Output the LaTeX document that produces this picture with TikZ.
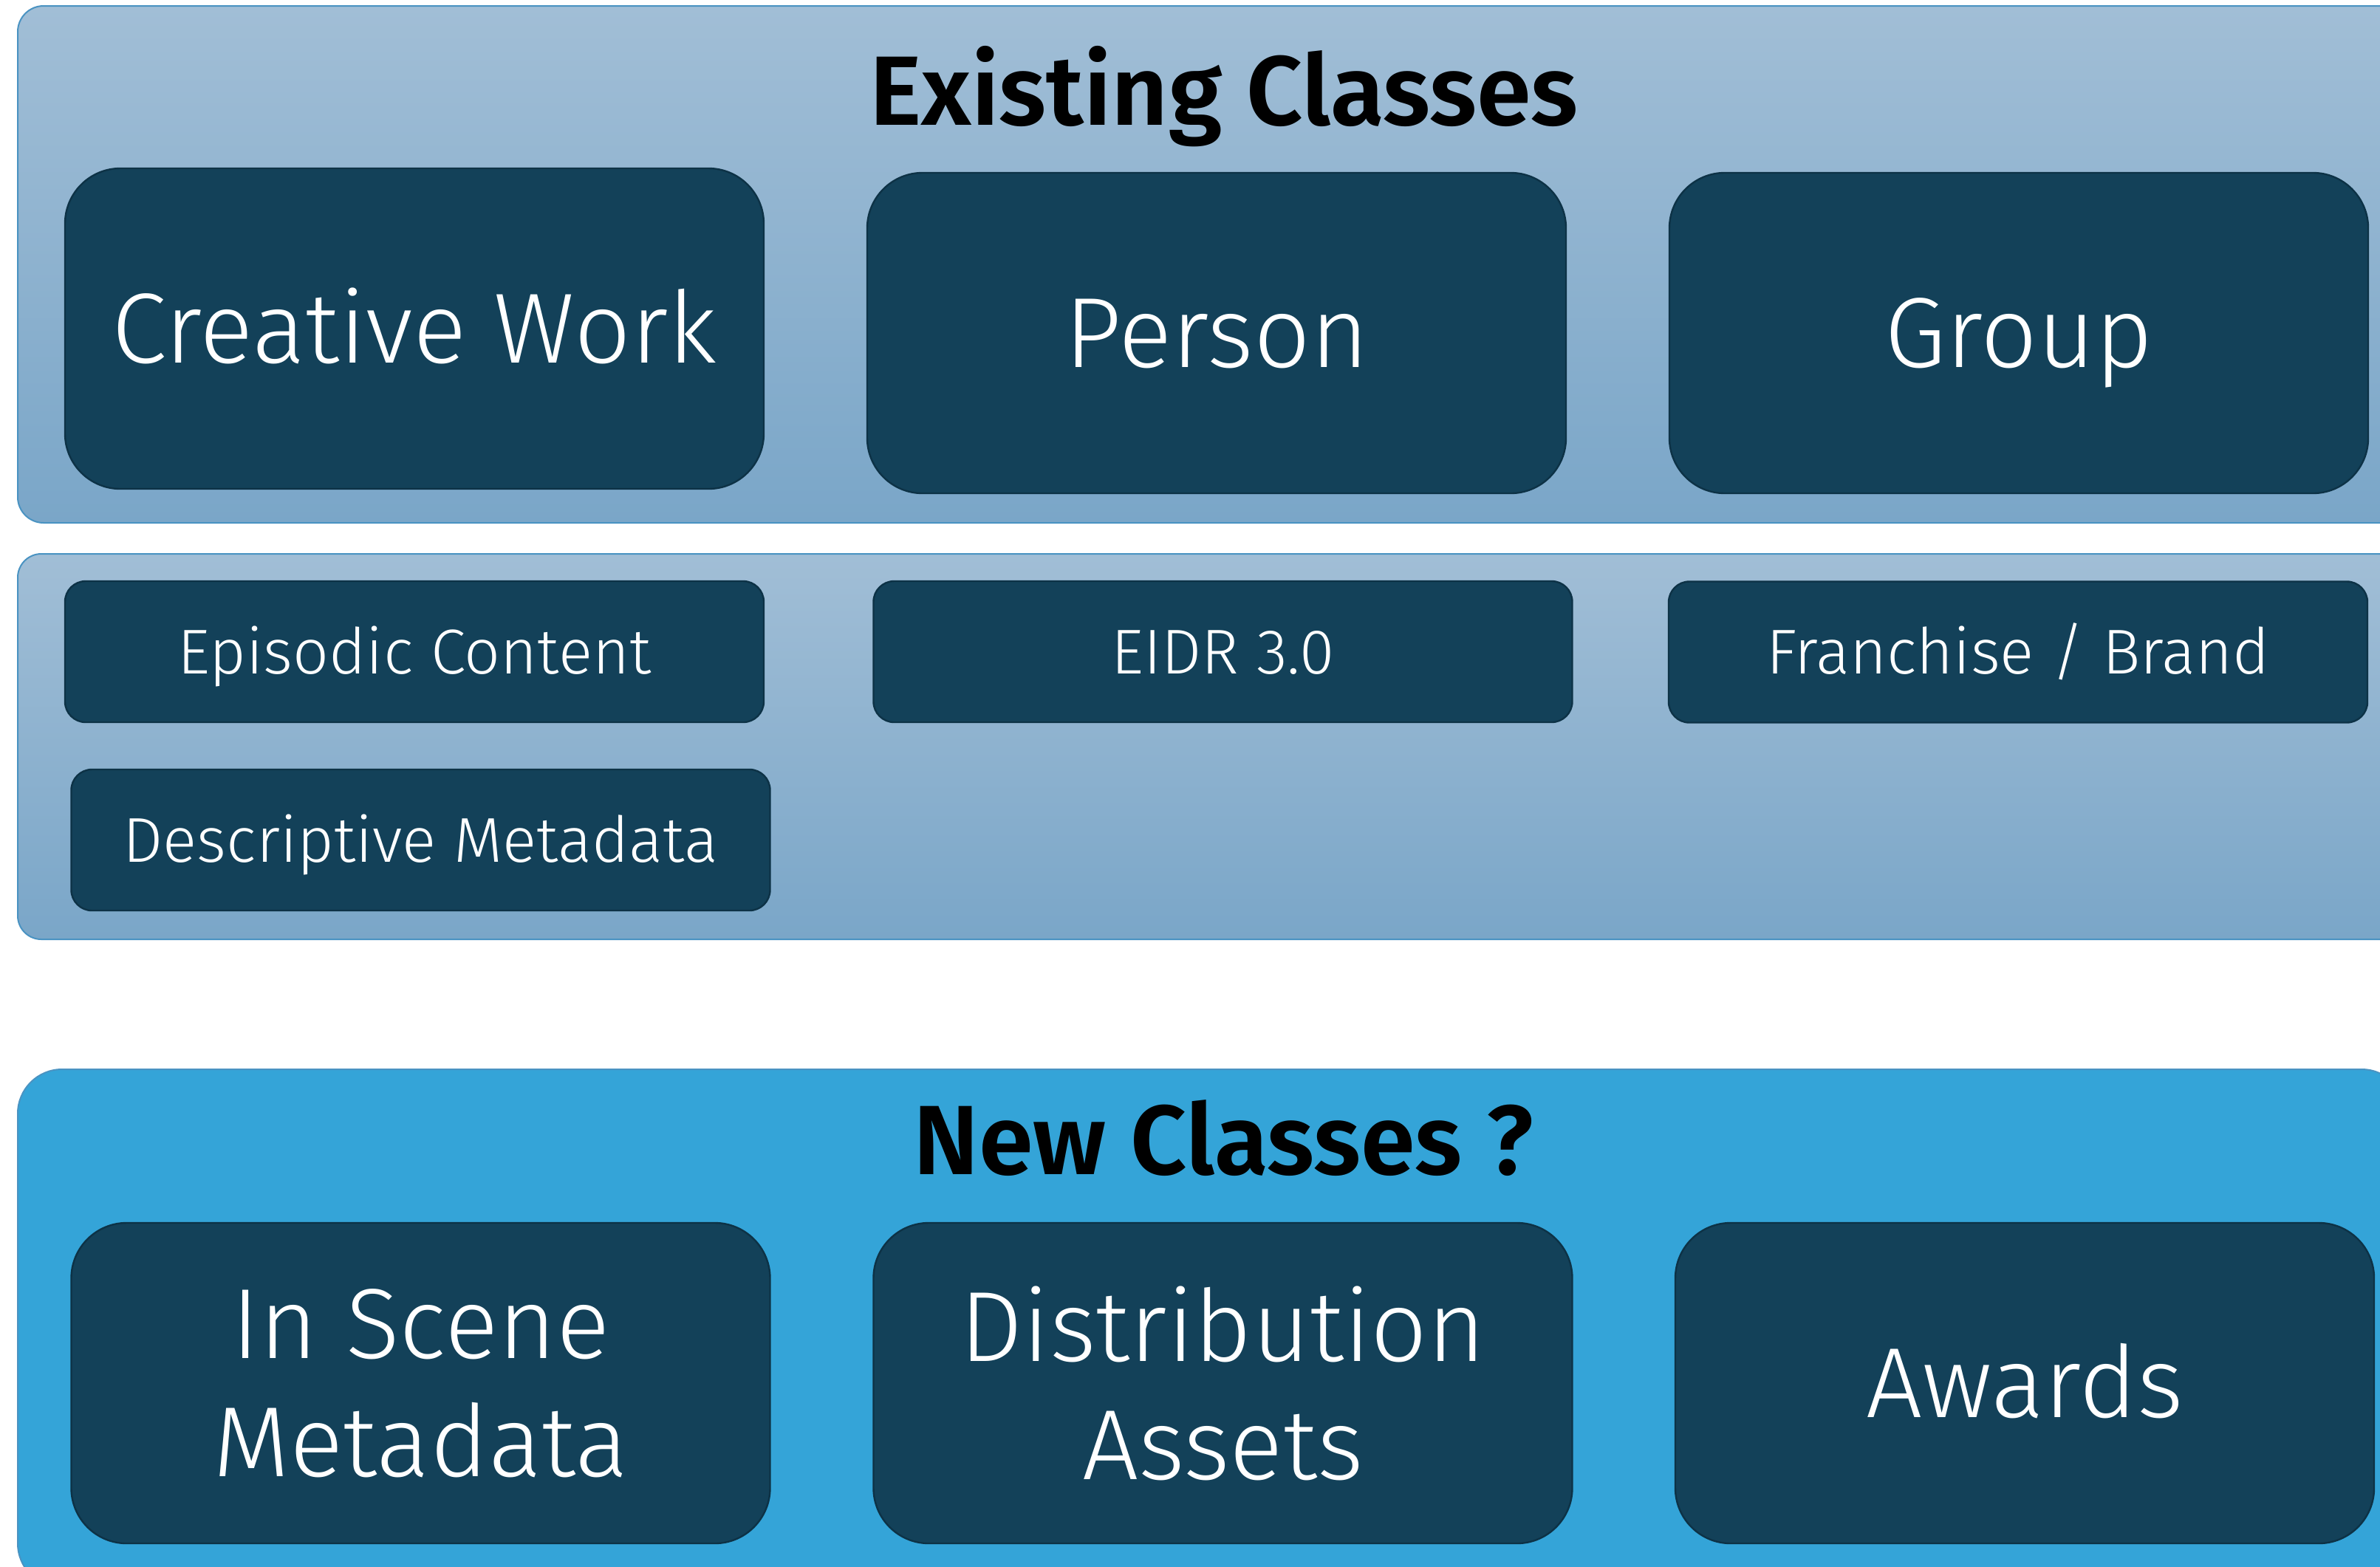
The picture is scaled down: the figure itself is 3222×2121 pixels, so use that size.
\documentclass[tikz,border=0pt]{standalone}
\usepackage{fontspec}
\setmainfont{Fira Sans}
\newfontfamily\firalight{Fira Sans Light}
\newfontfamily\firasemi{Fira Sans SemiBold}

\definecolor{paneltop}{HTML}{A1BED6}
\definecolor{panelbot}{HTML}{7AA6C8}
\definecolor{panelline}{HTML}{4A93C2}
\definecolor{newblue}{HTML}{34A4D8}
\definecolor{boxfill}{HTML}{134159}
\definecolor{boxline}{HTML}{0D3246}

\tikzset{
  panel/.style={draw=panelline, line width=1pt, top color=paneltop, bottom color=panelbot},
  newpanel/.style={draw=panelline, line width=1pt, fill=newblue, rounded corners=30pt},
  classbox/.style={draw=boxline, fill=boxfill, line width=1.2pt, inner sep=0pt,
    text=white, minimum width=473pt},
  bigbox/.style={classbox, rounded corners=37.5pt, minimum height=217pt,
    font=\firalight\fontsize{67.5pt}{80pt}\selectfont},
  bigone/.style={bigbox, text height=46.5pt, text depth=0pt},
  bigtwo/.style={bigbox, align=center},
  smallbox/.style={classbox, rounded corners=14pt, minimum height=95.5pt,
    font=\firalight\fontsize{42.9pt}{52pt}\selectfont, text height=29.6pt, text depth=0pt},
  heading/.style={anchor=base, inner sep=0pt, text=black,
    font=\firasemi\fontsize{66.7pt}{80pt}\selectfont}
}

\begin{document}
\begin{tikzpicture}[x=0.5pt, y=-0.5pt]
  \useasboundingbox (0,0) rectangle (3222,2121);
  \clip (0,0) rectangle (3222,2121);

  % background bands
  \shadedraw[panel, rounded corners=17.5pt] (24,8) rectangle (3300,708);
  \shadedraw[panel, rounded corners=16pt] (24,750) rectangle (3300,1272);
  \filldraw[newpanel] (24,1448) rectangle (3257,2150);

  % existing classes
  \node[heading] (existing) at (1657,169) {Existing Classes};
  \node[bigone] (creative) at (561,445) {Creative Work};
  \node[bigone] (person) at (1647,451) {Person};
  \node[bigone] (group) at (2733,451) {Group};

  % extensions
  \node[smallbox] (episodic) at (561,882.5) {Episodic Content};
  \node[smallbox] (eidr) at (1655.5,882.5) {EIDR 3.0};
  \node[smallbox] (franchise) at (2732,883) {Franchise / Brand};
  \node[smallbox] (descriptive) at (569.5,1137.5) {Descriptive Metadata};

  % proposed classes
  \node[heading] (newclasses) at (1656,1590) {New Classes ?};
  \node[bigtwo] (inscene) at (569.5,1873) {In Scene\\Metadata};
  \node[bigtwo] (distribution) at (1655.5,1873) {Distribution\\Assets};
  \node[bigone] (awards) at (2741,1873) {Awards};
\end{tikzpicture}
\end{document}
